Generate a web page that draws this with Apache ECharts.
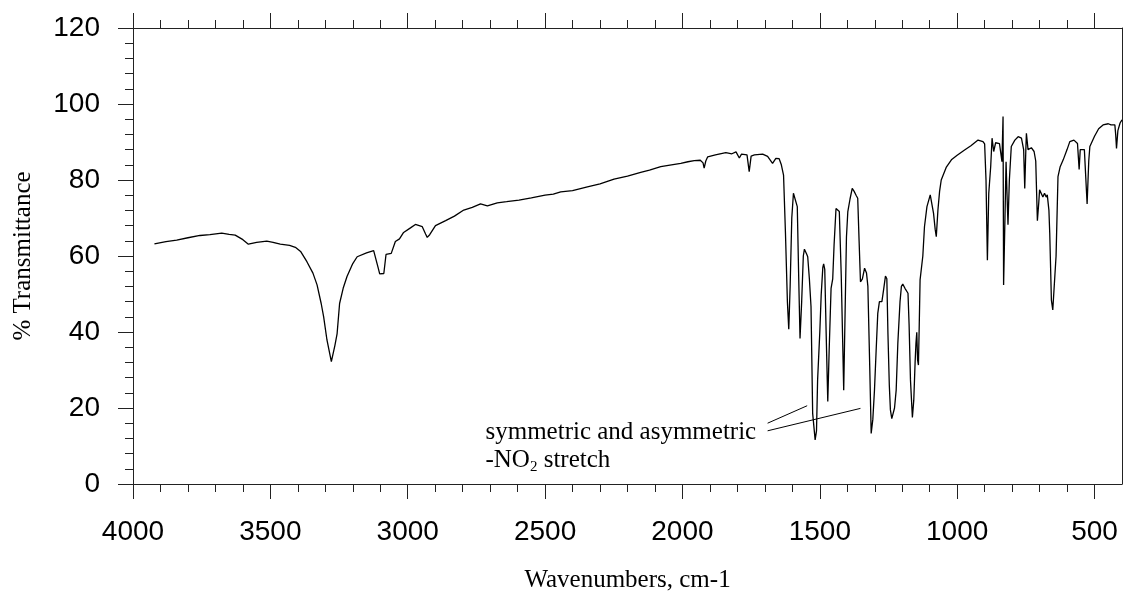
<!DOCTYPE html>
<html>
<head>
<meta charset="utf-8">
<title>IR spectrum</title>
<script src="https://cdn.jsdelivr.net/npm/echarts@6/dist/echarts.min.js"></script>
<style>
  html, body { margin: 0; padding: 0; background: #fff; }
  #chart { width: 1124px; height: 594px; }
</style>
</head>
<body>
<div id="chart"></div>
<script>
// Wavenumber (cm-1), high to low
const wavenumbers = [
  3922, 3880, 3841, 3800, 3756, 3720, 3677, 3650, 3628, 3600, 3580, 3550, 3513, 3490, 3464, 3430,
  3409, 3390, 3367, 3345, 3330, 3315, 3306, 3294, 3278, 3265, 3257, 3248, 3235, 3221, 3200, 3184,
  3150, 3124, 3118, 3108, 3102, 3087, 3079, 3060, 3045, 3030, 3015, 2990, 2972, 2947, 2935, 2929,
  2920, 2899, 2862, 2830, 2796, 2765, 2735, 2710, 2674, 2640, 2595, 2550, 2500, 2470, 2443, 2400,
  2346, 2300, 2249, 2200, 2152, 2120, 2079, 2040, 2006, 1980, 1957, 1935, 1925, 1921, 1915, 1908,
  1880, 1842, 1820, 1805, 1793, 1785, 1765, 1757, 1750, 1738, 1708, 1690, 1672, 1660, 1648, 1640,
  1632, 1625, 1618, 1613, 1608, 1602, 1596, 1589, 1582, 1577, 1572, 1566, 1560, 1556, 1548, 1544,
  1538, 1532, 1526, 1517, 1512, 1508, 1500, 1495, 1489, 1486, 1482, 1477, 1471, 1466, 1459, 1453,
  1448, 1441, 1435, 1429, 1422, 1416, 1413, 1408, 1403, 1398, 1390, 1382, 1375, 1368, 1362, 1357,
  1352, 1345, 1337, 1330, 1325, 1318, 1313, 1307, 1301, 1295, 1289, 1283, 1274, 1268, 1261, 1256,
  1252, 1247, 1243, 1238, 1234, 1228, 1222, 1216, 1208, 1203, 1198, 1190, 1179, 1175, 1170, 1163,
  1158, 1153, 1150, 1147, 1144, 1141, 1138, 1135, 1125, 1119, 1110, 1098, 1086, 1080, 1076, 1070,
  1064, 1058, 1040, 1021, 1000, 973, 950, 924, 906, 900, 895, 890, 885, 878, 873, 867,
  860, 846, 837, 833, 831, 826, 822, 818, 815, 810, 803, 790, 778, 766, 758, 754,
  750, 748, 742, 730, 720, 714, 708, 703, 700, 693, 688, 682, 676, 672, 666, 663,
  657, 652, 645, 640, 633, 625, 614, 600, 590, 575, 562, 556, 552, 545, 537, 533,
  527, 521, 517, 500, 485, 469, 450, 440, 426, 423, 420, 415, 407, 400
];

// % Transmittance at each wavenumber
const transmittance = [
  63.2, 63.8, 64.2, 64.8, 65.4, 65.6, 66.0, 65.7, 65.5, 64.3, 63.1, 63.6, 63.9, 63.6, 63.1, 62.8,
  62.3, 61.2, 58.5, 55.5, 52.4, 47.5, 44.0, 37.9, 32.2, 36.5, 39.6, 47.5, 51.5, 54.6, 58.0, 59.8,
  60.8, 61.4, 61.1, 57.0, 55.3, 55.4, 60.4, 60.7, 63.8, 64.5, 66.2, 67.4, 68.3, 67.7, 65.8, 64.9,
  65.6, 68.0, 69.3, 70.5, 72.1, 72.8, 73.7, 73.2, 74.0, 74.3, 74.7, 75.3, 76.0, 76.3, 76.9, 77.2,
  78.2, 79.0, 80.2, 81.0, 82.0, 82.6, 83.5, 84.0, 84.4, 84.8, 85.1, 85.2, 84.5, 83.1, 85.0, 86.1,
  86.6, 87.2, 86.9, 87.4, 85.8, 86.8, 86.6, 82.2, 86.3, 86.6, 86.8, 86.2, 84.4, 85.7, 85.6, 84.0,
  81.3, 66.0, 48.0, 40.7, 52.0, 70.0, 76.5, 76.9, 73.0, 55.0, 38.3, 48.0, 60.0, 61.8, 60.5, 59.8,
  54.0, 46.7, 18.6, 11.6, 14.0, 27.4, 40.0, 49.7, 57.0, 57.9, 56.5, 40.0, 21.7, 35.0, 51.5, 54.0,
  63.0, 72.5, 73.0, 71.7, 55.0, 35.0, 24.7, 45.0, 65.0, 71.7, 75.0, 77.8, 77.0, 76.0, 75.2, 64.0,
  53.2, 54.0, 56.8, 55.5, 52.0, 30.0, 13.3, 17.0, 24.7, 35.0, 44.9, 48.0, 48.0, 51.0, 54.7, 54.0,
  39.6, 26.0, 19.5, 17.2, 17.0, 20.0, 24.7, 37.0, 48.0, 52.0, 52.6, 51.5, 50.2, 42.0, 27.4, 17.5,
  22.0, 32.2, 37.0, 39.9, 32.6, 31.3, 42.0, 53.7, 60.0, 67.7, 73.0, 76.1, 71.2, 67.0, 65.1, 72.1,
  77.0, 80.0, 83.3, 85.3, 86.5, 87.9, 89.0, 90.5, 90.1, 89.5, 80.0, 58.9, 76.5, 83.5, 91.0, 87.5,
  89.8, 89.6, 84.8, 96.7, 52.4, 70.0, 84.8, 75.0, 68.2, 80.0, 88.8, 90.5, 91.4, 91.0, 88.0, 77.8,
  88.0, 92.3, 88.0, 88.5, 87.5, 85.0, 69.3, 74.0, 77.4, 77.0, 75.5, 76.5, 75.5, 76.1, 72.0, 66.0,
  48.4, 45.8, 45.8, 60.0, 80.9, 83.5, 85.3, 88.0, 90.1, 90.5, 89.6, 82.8, 88.0, 88.5, 88.0, 87.9,
  73.7, 85.0, 88.8, 91.5, 93.5, 94.5, 94.8, 94.5, 94.5, 92.0, 88.3, 93.0, 95.0, 95.8
];

// Axis ticks
const xMajorTicks = [4000, 3500, 3000, 2500, 2000, 1500, 1000, 500];
const xMinorTicks = [
  3900, 3800, 3700, 3600, 3400, 3300, 3200, 3100, 2900, 2800, 2700, 2600,
  2400, 2300, 2200, 2100, 1900, 1800, 1700, 1600, 1400, 1300, 1200, 1100,
  900, 800, 700, 600
];

// Annotation: text anchor (top-left) and leader lines, in data units
const noteAnchor = [2717, 17.2];
const leaderLines = [
  [[1690, 16.0], [1546, 20.6]],
  [[1690, 14.0], [1352, 19.9]]
];

const spectrum = wavenumbers.map((w, i) => [w, transmittance[i]]);

const axisColor = '#222';
const sansFont = 'Liberation Sans, Arial, sans-serif';
const serifFont = 'Liberation Serif, Times New Roman, serif';

function xAxisBase(position) {
  return {
    type: 'value',
    position: position,
    min: 400,
    max: 4000,
    inverse: true,
    splitLine: { show: false },
    axisLine: { show: false, onZero: false },
    axisLabel: { show: false },
    axisTick: { show: false }
  };
}

function majorX(position, withLabels) {
  const ax = xAxisBase(position);
  ax.axisLine = { show: true, onZero: false, lineStyle: { color: axisColor, width: 1 } };
  ax.axisTick = { show: true, inside: false, length: 15, customValues: xMajorTicks,
                  lineStyle: { color: axisColor, width: 1 } };
  if (withLabels) {
    ax.axisLabel = { show: true, customValues: xMajorTicks, margin: 34,
                     fontSize: 28, fontFamily: sansFont, color: '#000',
                     formatter: v => String(v) };
    ax.name = 'Wavenumbers, cm-1';
    ax.nameLocation = 'middle';
    ax.nameGap = 84;
    ax.nameTextStyle = { fontFamily: serifFont, fontSize: 25, color: '#000' };
  }
  return ax;
}

function minorX(position) {
  const ax = xAxisBase(position);
  ax.axisTick = { show: true, inside: false, length: 8, customValues: xMinorTicks,
                  lineStyle: { color: axisColor, width: 1 } };
  return ax;
}

const chart = echarts.init(document.getElementById('chart'), null, { renderer: 'canvas' });

chart.setOption({
  animation: false,
  backgroundColor: '#fff',
  grid: { left: 133, right: 2, top: 28, bottom: 110, containLabel: false, outerBoundsMode: 'none' },
  xAxis: [
    majorX('bottom', true),
    minorX('bottom'),
    majorX('top', false),
    minorX('top')
  ],
  yAxis: [
    {
      type: 'value',
      position: 'left',
      min: 0,
      max: 120,
      interval: 20,
      axisLine: { show: true, onZero: false, lineStyle: { color: axisColor, width: 1 } },
      axisTick: { show: true, inside: false, length: 15, lineStyle: { color: axisColor, width: 1 } },
      minorTick: { show: true, splitNumber: 5, length: 8, lineStyle: { color: axisColor, width: 1 } },
      axisLabel: { margin: 33, fontSize: 28, fontFamily: sansFont, color: '#000' },
      splitLine: { show: false },
      minorSplitLine: { show: false },
      name: '% Transmittance',
      nameLocation: 'middle',
      nameGap: 97,
      nameTextStyle: { fontFamily: serifFont, fontSize: 25, color: '#000' }
    },
    {
      type: 'value',
      position: 'right',
      min: 0,
      max: 120,
      axisLine: { show: true, onZero: false, lineStyle: { color: axisColor, width: 1 } },
      axisTick: { show: false },
      axisLabel: { show: false },
      splitLine: { show: false }
    }
  ],
  series: [
    {
      type: 'line',
      xAxisIndex: 0,
      yAxisIndex: 0,
      data: spectrum,
      showSymbol: false,
      symbol: 'none',
      smooth: false,
      lineStyle: { color: '#000', width: 1.3 },
      silent: true,
      markPoint: {
        silent: true,
        symbol: 'circle',
        symbolSize: 0,
        data: [{
          coord: noteAnchor,
          label: {
            show: true,
            position: [0, 0],
            align: 'left',
            verticalAlign: 'top',
            formatter: '{a|symmetric and asymmetric}\n{a|-NO}{s|2}{a| stretch}',
            rich: {
              a: { fontFamily: serifFont, fontSize: 25, lineHeight: 28, color: '#000' },
              s: { fontFamily: serifFont, fontSize: 15, lineHeight: 5, verticalAlign: 'bottom', color: '#000' }
            }
          }
        }]
      },
      markLine: {
        silent: true,
        symbol: ['none', 'none'],
        label: { show: false },
        lineStyle: { color: '#000', width: 1, type: 'solid' },
        data: leaderLines.map(seg => [{ coord: seg[0] }, { coord: seg[1] }])
      }
    }
  ]
});
</script>
</body>
</html>
